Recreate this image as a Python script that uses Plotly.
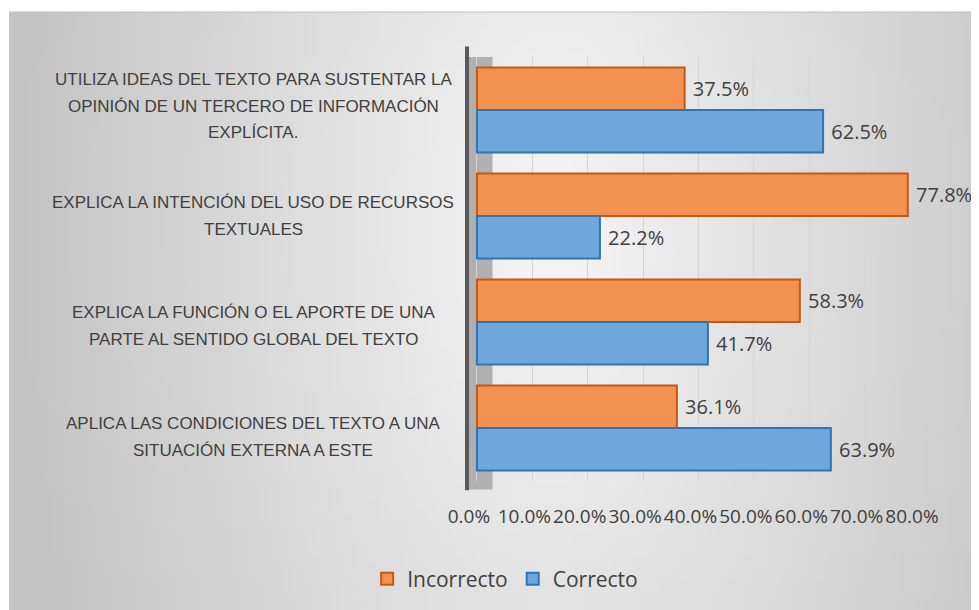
import base64, struct, zlib
import plotly.graph_objects as go

categories = [
    "UTILIZA IDEAS DEL TEXTO PARA SUSTENTAR LA<br>OPINIÓN DE UN TERCERO DE INFORMACIÓN<br>EXPLÍCITA.",
    "EXPLICA LA INTENCIÓN DEL USO DE RECURSOS<br>TEXTUALES",
    "EXPLICA LA FUNCIÓN O EL APORTE DE UNA<br>PARTE AL SENTIDO GLOBAL DEL TEXTO",
    "APLICA LAS CONDICIONES DEL TEXTO A UNA<br>SITUACIÓN EXTERNA A ESTE",
]
incorrecto = [37.5, 77.8, 58.3, 36.1]
correcto = [62.5, 22.2, 41.7, 63.9]
tick_vals = [0, 10, 20, 30, 40, 50, 60, 70, 80]
tick_text = ["0.0%", "10.0%", "20.0%", "30.0%", "40.0%", "50.0%", "60.0%", "70.0%", "80.0%"]

# page body has an 8px margin, so the figure is laid out 8px up/left
W, H = 971, 602
ML, MR, MT, MB = 459, 59, 49, 129
PW, PH = W - ML - MR, H - MT - MB
PANEL_L, PANEL_T = 1, 4
LABEL_NUDGE = [4, 0, -4, -9]  # px vertical nudge of each category label block


def gradient_png(w=80, h=50):
    rows = []
    for j in range(h):
        v = j / (h - 1)
        row = bytearray([0])
        for i in range(w):
            u = i / (w - 1)
            d = (((u - 0.56) / 0.52) ** 2 + ((v - 0.35) / 1.6) ** 2) ** 0.5
            c = int(max(196, min(245, 246 - 46 * d)))
            row += bytes([c, c, c])
        rows.append(bytes(row))
    raw = b"".join(rows)

    def chunk(t, data):
        c = struct.pack(">I", len(data)) + t + data
        return c + struct.pack(">I", zlib.crc32(t + data) & 0xffffffff)

    png = b"\x89PNG\r\n\x1a\n" + chunk(b"IHDR", struct.pack(">IIBBBBB", w, h, 8, 2, 0, 0, 0))
    png += chunk(b"IDAT", zlib.compress(raw, 9)) + chunk(b"IEND", b"")
    return "data:image/png;base64," + base64.b64encode(png).decode()


fig = go.Figure()
fig.add_trace(go.Bar(
    y=categories, x=incorrecto, orientation="h", name="Incorrecto",
    marker=dict(color="#F39150", line=dict(color="#C65911", width=2)),
    texttemplate=" %{x:.1f}%", textposition="outside",
    textfont=dict(family="Open Sans", size=20, color="#404040"),
    cliponaxis=False,
))
fig.add_trace(go.Bar(
    y=categories, x=correcto, orientation="h", name="Correcto",
    marker=dict(color="#6FA6DC", line=dict(color="#2E75B6", width=2)),
    texttemplate=" %{x:.1f}%", textposition="outside",
    textfont=dict(family="Open Sans", size=20, color="#404040"),
    cliponaxis=False,
))

# category labels: centered lines, 26.5px line pitch
LINE = 26.5
for cat, nudge in zip(categories, LABEL_NUDGE):
    lines = cat.split("<br>")
    n = len(lines)
    for k, line in enumerate(lines):
        fig.add_annotation(
            x=0, xref="paper", xanchor="center", xshift=-214,
            y=cat, yref="y", yanchor="middle",
            yshift=((n - 1) / 2 - k) * LINE + nudge,
            text=line, showarrow=False, align="center",
            font=dict(family="Liberation Sans, Arial", size=17, color="#404040"),
        )

fig.update_layout(
    width=W, height=H,
    margin=dict(l=ML, r=MR, t=MT, b=MB, autoexpand=False),
    paper_bgcolor="white",
    plot_bgcolor="rgba(0,0,0,0)",
    barmode="group", bargap=0.2, bargroupgap=0,
    showlegend=True,
    legend=dict(
        orientation="h", xref="container", yref="container",
        x=0.512, xanchor="center", y=0.0515, yanchor="middle",
        font=dict(family="Open Sans", size=21, color="#404040"),
        bgcolor="rgba(0,0,0,0)",
    ),
    xaxis=dict(
        range=[-1.8, 80], tickvals=tick_vals, ticktext=tick_text,
        showgrid=True, gridcolor="#d4d4d4", gridwidth=1, zeroline=False,
        showline=False, ticks="", tickangle=0, automargin=False,
        tickfont=dict(family="Open Sans", size=19, color="#404040"),
        ticklabelstandoff=22, ticklabelshift=-8,
    ),
    yaxis=dict(
        categoryorder="array", categoryarray=categories, autorange="reversed",
        showticklabels=False, showgrid=False, zeroline=False, showline=False, ticks="",
        automargin=False,
    ),
    images=[dict(
        source=gradient_png(), xref="paper", yref="paper",
        x=(PANEL_L - ML) / PW, y=(H - MB - PANEL_T) / PH,
        sizex=(W - PANEL_L) / PW, sizey=(H - PANEL_T) / PH,
        xanchor="left", yanchor="top", sizing="stretch", layer="below",
    )],
    shapes=[
        dict(type="rect", xref="x", yref="paper", x0=-1.8, x1=2.8, y0=-0.02, y1=1.0,
             fillcolor="#b0b0b0", line=dict(width=0), layer="below"),
        dict(type="line", xref="paper", yref="paper", x0=0, x1=0, y0=-0.022, y1=1.025,
             line=dict(color="#595959", width=4)),
        dict(type="line", xref="paper", yref="paper", x0=(PANEL_L - ML) / PW, x1=(W - ML) / PW,
             y0=(H - MB - PANEL_T) / PH, y1=(H - MB - PANEL_T) / PH,
             line=dict(color="#bdbdbd", width=1)),
    ],
)

fig.write_html("out.html")
